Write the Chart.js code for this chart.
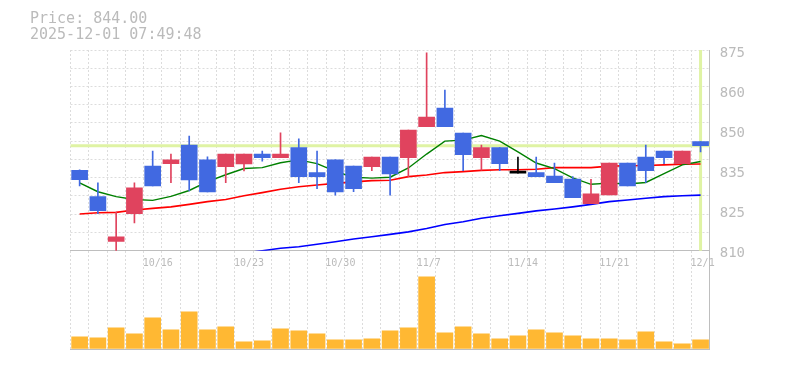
<!DOCTYPE html>
<html><head><meta charset="utf-8">
<script src="https://cdn.jsdelivr.net/npm/chart.js@4.4.1/dist/chart.umd.min.js"></script>
<style>
html,body{margin:0;padding:0;background:#fff;width:785px;height:370px;overflow:hidden;}
#wrap{position:relative;width:785px;height:370px;}
canvas{position:absolute;left:0;top:0;}
#title{position:absolute;left:30px;top:9.5px;font-family:'DejaVu Sans Mono',monospace;font-size:15px;line-height:16px;color:#bbb;white-space:pre;z-index:3;}
</style></head>
<body>
<div id="wrap">
<canvas id="vol" width="785" height="370"></canvas>
<canvas id="price" width="785" height="370"></canvas>
<div id="title"></div>
</div>
<script>
// ---- data ----
const currentPrice = 844.00;
const timestamp = '2025-12-01 07:49:48';
const dates = ['10/9','10/10','10/14','10/15','10/16','10/17','10/20','10/21','10/22','10/23','10/24','10/27','10/28','10/29','10/30','10/31','11/4','11/5','11/6','11/7','11/10','11/11','11/12','11/13','11/14','11/17','11/18','11/19','11/20','11/21','11/25','11/26','11/27','11/28','12/1'];
const tickLabels = ['10/16','10/23','10/30','11/7','11/14','11/21','12/1'];
const yTickValues = [875, 862, 849, 836, 823, 810];
const yTickLabels = ['875', '860', '850', '835', '825', '810'];
const opens  = [836.0,827.5,813.0,822.0,837.4,838.2,844.2,839.4,837.2,838.1,841.3,840.1,843.4,835.3,839.4,837.4,837.2,840.3,840.1,850.2,856.2,848.1,840.1,843.4,835.1,835.3,834.2,833.2,825.2,828.1,838.4,840.3,842.3,838.2,845.3];
const highs  = [836.2,832.0,822.5,832.0,842.3,841.3,847.1,840.4,841.3,841.3,842.3,848.2,846.2,842.3,839.4,837.4,840.3,840.3,849.1,874.1,862.0,848.1,844.2,843.4,840.3,840.3,838.4,834.0,833.1,838.4,838.4,844.2,842.3,842.3,845.3];
const lows   = [831.0,822.0,809.0,819.0,831.0,832.0,829.4,829.0,832.0,835.8,839.0,840.1,832.0,830.1,828.0,829.1,835.9,828.0,834.0,850.2,850.2,835.9,836.1,835.9,835.1,834.0,832.0,827.2,825.2,828.1,831.0,832.0,838.2,838.2,842.0];
const closes = [833.0,823.0,814.5,830.4,831.0,839.4,832.9,829.0,841.3,841.3,840.1,841.3,834.0,834.0,829.0,830.1,840.3,834.9,849.1,853.3,850.2,841.1,843.4,838.2,835.1,834.0,832.0,827.2,828.4,838.4,831.0,835.9,840.1,842.3,844.0];
const ma5  = [832.0,829.1,827.5,826.6,826.3,827.6,829.5,832.4,834.6,836.6,836.9,838.5,839.4,838.2,835.7,833.8,833.5,833.8,836.8,841.3,845.5,845.8,847.3,845.5,842.0,838.4,836.6,833.6,831.5,831.9,831.6,832.1,835.0,837.8,838.9];
const ma25 = [821.9,822.3,822.4,823.2,823.7,824.2,825.0,825.9,826.6,827.8,828.8,829.9,830.7,831.3,831.8,832.3,832.7,832.8,834.0,834.5,835.3,835.6,836.0,836.2,836.2,836.4,836.9,836.9,836.9,837.4,837.5,837.6,837.8,838.0,838.1];
const ma75 = [null,null,null,null,null,null,null,null,null,809.2,810.0,810.8,811.3,812.1,812.9,813.8,814.5,815.3,816.1,817.2,818.5,819.4,820.5,821.3,822.1,822.9,823.5,824.2,825.0,825.9,826.4,827.0,827.5,827.8,828.0];
const volumes = [23,21,41,29,61,37,73,37,43,13,15,39,35,29,17,17,19,35,41,143,31,43,29,19,25,37,31,25,19,19,17,33,13,9,17];

// ---- style ----
const MONO = "'DejaVu Sans Mono', monospace";
const GRID = '#dcdcdc', AXIS = '#bebebe', TXT = '#bbbbbb';
const UP = '#e0435e', DOWN = '#4169e1', EVEN = '#000000';
const candleColors = opens.map((o, i) => closes[i] > o ? UP : (closes[i] < o ? DOWN : EVEN));
const PLOT_LEFT = 70.5, RIGHT_W = 75.3;

document.getElementById('title').textContent = 'Price: ' + currentPrice.toFixed(2) + '\n' + timestamp;

const priceLinePlugin = {
  id: 'priceLine',
  beforeDatasetsDraw(chart) {
    const {ctx, chartArea: a, scales} = chart;
    const py = scales.y.getPixelForValue(currentPrice);
    const px = scales.x.getPixelForValue(dates.length - 1);
    ctx.save();
    ctx.strokeStyle = '#dff3a4';
    ctx.lineWidth = 3;
    ctx.beginPath();
    ctx.moveTo(a.left, py); ctx.lineTo(a.right, py);
    ctx.moveTo(px, a.top); ctx.lineTo(px, a.bottom);
    ctx.stroke();
    ctx.restore();
  }
};

Chart.defaults.animation = false;

new Chart(document.getElementById('price'), {
  type: 'bar',
  data: {
    labels: dates,
    datasets: [
      {type: 'bar', label: 'body', data: dates.map((d, i) => [opens[i], closes[i]]), backgroundColor: candleColors, barThickness: 16, grouped: false, minBarLength: 2, order: 0, yAxisID: 'y'},
      {type: 'bar', label: 'wick', data: dates.map((d, i) => [lows[i], highs[i]]), backgroundColor: candleColors, barThickness: 1, grouped: false, order: 1, yAxisID: 'y'},
      {type: 'line', label: 'MA5', data: ma5, borderColor: '#008000', borderWidth: 1.4, pointRadius: 0, tension: 0, order: 2, yAxisID: 'y'},
      {type: 'line', label: 'MA25', data: ma25, borderColor: '#ff0000', borderWidth: 1.6, pointRadius: 0, tension: 0, order: 3, yAxisID: 'y'},
      {type: 'line', label: 'MA75', data: ma75, borderColor: '#0000ff', borderWidth: 1.6, pointRadius: 0, tension: 0, order: 4, yAxisID: 'y'}
    ]
  },
  options: {
    responsive: false,
    animation: false,
    events: [],
    layout: {padding: {left: PLOT_LEFT, top: 50, right: 0, bottom: 370 - 250.7 - 20}},
    plugins: {legend: {display: false}, tooltip: {enabled: false}, title: {display: false}},
    scales: {
      x: {
        type: 'category', offset: true,
        grid: {offset: true, color: GRID, drawTicks: false},
        border: {display: true, color: AXIS, dash: [2, 2]},
        ticks: {
          autoSkip: false, maxRotation: 0, minRotation: 0, align: 'start', labelOffset: -10, padding: 7,
          color: TXT, font: {family: MONO, size: 10},
          callback: (v, i) => tickLabels.includes(dates[i]) ? dates[i] : ''
        },
        afterFit: s => { s.height = 20; }
      },
      y: {
        position: 'right', min: 810, max: 875,
        afterBuildTicks: s => {
          const n = 11, t = [];
          for (let k = 0; k <= n; k++) t.push({value: s.min + (s.max - s.min) * k / n});
          s.ticks = t;
        },
        grid: {color: GRID, drawTicks: false},
        border: {display: true, color: AXIS, dash: [2, 2]},
        ticks: {display: false},
        afterFit: s => { s.width = 0; }
      },
      yLab: {
        position: 'right', min: 810, max: 875,
        afterBuildTicks: s => { s.ticks = yTickValues.map(v => ({value: v})); },
        grid: {display: false, drawTicks: false},
        border: {display: false},
        ticks: {padding: 10, labelOffset: 3, color: TXT, font: {family: MONO, size: 14},
          callback: v => yTickLabels[yTickValues.indexOf(v)]},
        afterFit: s => { s.width = RIGHT_W; }
      }
    }
  },
  plugins: [priceLinePlugin]
});

new Chart(document.getElementById('vol'), {
  type: 'bar',
  data: {labels: dates, datasets: [{label: 'Volume', data: volumes, backgroundColor: '#ffb833', barThickness: 16}]},
  options: {
    responsive: false,
    animation: false,
    events: [],
    layout: {padding: {left: PLOT_LEFT, top: 251, right: 0, bottom: 370 - 349.3}},
    plugins: {legend: {display: false}, tooltip: {enabled: false}},
    scales: {
      x: {
        offset: true,
        grid: {offset: true, color: GRID, drawTicks: false},
        border: {display: true, color: AXIS, dash: [2, 2]},
        ticks: {display: false},
        afterFit: s => { s.height = 0; }
      },
      y: {
        position: 'right', min: -2, max: 195,
        grid: {display: false, drawTicks: false},
        border: {display: true, color: AXIS},
        ticks: {display: false},
        afterFit: s => { s.width = RIGHT_W; }
      }
    }
  }
});
</script>
</body></html>
